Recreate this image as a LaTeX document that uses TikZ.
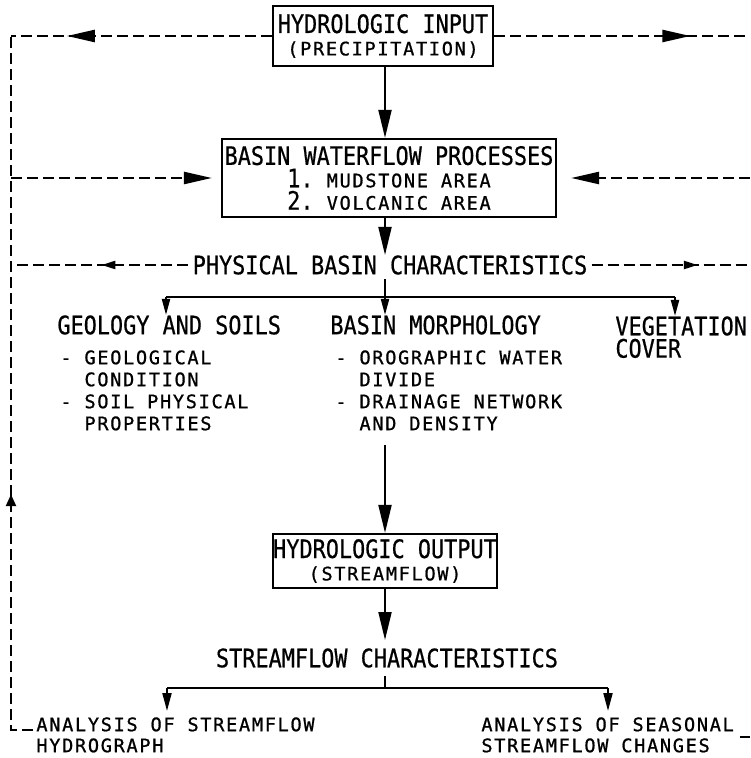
\documentclass[tikz,border=0pt]{standalone}
\usepackage{fontspec}
\usetikzlibrary{arrows.meta,decorations.markings}
\newfontfamily\headfont[FakeStretch=0.86,FakeBold=0.6]{DejaVu Sans Mono}
\newfontfamily\listfont[LetterSpace=9,FakeBold=0.9]{DejaVu Sans Mono}
\newcommand{\hd}{\headfont\fontsize{12.7pt}{11.2pt}\selectfont}
\newcommand{\sm}{\listfont\fontsize{9.3pt}{11pt}\selectfont}
\begin{document}
\begin{tikzpicture}[x=0.5pt,y=-0.5pt,
	box/.style={draw,line width=1.1pt,inner sep=0pt,align=center,font=\hd},
	label/.style={inner sep=0pt,align=left},
	main/.style={line width=1pt,-{Triangle[length=14pt,width=6.5pt]}},
	twig/.style={line width=1pt,-{Triangle[length=8pt,width=4pt]}},
	feed/.style={line width=1.2pt,dash pattern=on 5.5pt off 2.5pt},
	bigtip/.style={postaction=decorate,decoration={markings,mark=at position #1 with {\arrow{Triangle[length=14pt,width=6pt]}}}},
	smalltip/.style={postaction=decorate,decoration={markings,mark=at position #1 with {\arrow{Triangle[length=7pt,width=4pt]}}}},
	uptip/.style={postaction=decorate,decoration={markings,mark=at position #1 with {\arrow{Triangle[length=6pt,width=5pt]}}}}]
	\useasboundingbox (0,0) rectangle (750,758);

	\node[box,minimum width=110pt,minimum height=30pt] (input) at (383,36) {HYDROLOGIC INPUT\\{\sm (PRECIPITATION)}};
	\node[box,minimum width=167pt,minimum height=39pt] (waterflow) at (389,178) {BASIN WATERFLOW PROCESSES\\1.~{\sm MUDSTONE AREA}\\2.~{\sm VOLCANIC AREA}};
	\node[label,font=\hd] (phys) at (390,265) {PHYSICAL BASIN CHARACTERISTICS};

	\node[label,font=\hd,anchor=west] (geo) at (57,325) {GEOLOGY AND SOILS};
	\node[label,font=\sm,anchor=north west] (geolist) at (60,350) {- GEOLOGICAL\\\phantom{- }CONDITION\\- SOIL PHYSICAL\\\phantom{- }PROPERTIES};
	\node[label,font=\hd,anchor=west] (morph) at (330,325) {BASIN MORPHOLOGY};
	\node[label,font=\sm,anchor=north west] (morphlist) at (335,350) {- OROGRAPHIC WATER\\\phantom{- }DIVIDE\\- DRAINAGE NETWORK\\\phantom{- }AND DENSITY};
	\node[label,font=\hd,anchor=north west] (veg) at (615,316) {VEGETATION\\COVER};

	\node[box,minimum width=110.5pt,minimum height=27pt] (output) at (385,561) {HYDROLOGIC OUTPUT\\{\sm (STREAMFLOW)}};
	\node[label,font=\hd] (stream) at (387,658) {STREAMFLOW CHARACTERISTICS};
	\node[label,font=\sm,anchor=north west] (hydrograph) at (36,717) {ANALYSIS OF STREAMFLOW\\[-0.5pt]HYDROGRAPH};
	\node[label,font=\sm,anchor=north west] (seasonal) at (481,717) {ANALYSIS OF SEASONAL\\[-0.5pt]STREAMFLOW CHANGES};

	\coordinate (ftl) at (11,36);
	\coordinate (ftr) at (750,36);
	\coordinate (fbl) at (11,730);
	\coordinate (fbr) at (750,737);
	\coordinate (pb) at (385,297);
	\coordinate (gb) at (166,297);
	\coordinate (vb) at (675,297);
	\coordinate (sb) at (385,688);
	\coordinate (hb) at (167,688);
	\coordinate (qb) at (608,688);

	\draw[main] (input.south -| pb) -- (waterflow.north -| pb);
	\draw[main] (waterflow.south -| pb) -- (phys.north -| pb);
	\draw[line width=1pt,shorten <=2pt] (phys.south -| pb) -- (pb);
	\draw[line width=1pt] (gb) -- (vb);
	\draw[twig] (gb) -- (gb |- geo.north);
	\draw[twig] (pb) -- (pb |- morph.north);
	\draw[twig] (vb) -- (vb |- veg.north);
	\draw[main] ([yshift=-7pt]morphlist.south -| pb) -- (output.north -| pb);
	\draw[main,shorten >=4pt] (output.south -| pb) -- (stream.north -| pb);
	\draw[line width=1pt,shorten <=4pt] (stream.south -| sb) -- (sb);
	\draw[line width=1pt] (hb) -- (qb);
	\draw[line width=1pt,-{Triangle[length=9pt,width=4.5pt]},shorten >=3pt] (hb) -- (hb |- hydrograph.north);
	\draw[line width=1pt,-{Triangle[length=9pt,width=4.5pt]},shorten >=3pt] (qb) -- (qb |- seasonal.north);

	\draw[feed,bigtip=0.786] (input.west) -- (ftl);
	\draw[feed,bigtip=0.767] (input.east) -- (ftr);
	\draw[feed,uptip=0.36] ([xshift=-1.5pt]hydrograph.west |- fbl) -- (fbl) -- (ftl);
	\draw[feed,-{Triangle[length=14pt,width=6pt]},shorten >=4.5pt] (waterflow.west -| ftl) -- (waterflow.west);
	\draw[feed,-{Triangle[length=14pt,width=6pt]},shorten >=7pt] (waterflow.east -| ftr) -- (waterflow.east);
	\draw[feed,smalltip=0.49] ([xshift=-2pt]phys.west) -- (phys.west -| ftl);
	\draw[feed,smalltip=0.67] ([xshift=2pt]phys.east) -- (phys.east -| ftr);
	\draw[feed] ([xshift=3pt]seasonal.east |- fbr) -- (fbr);
\end{tikzpicture}
\end{document}
